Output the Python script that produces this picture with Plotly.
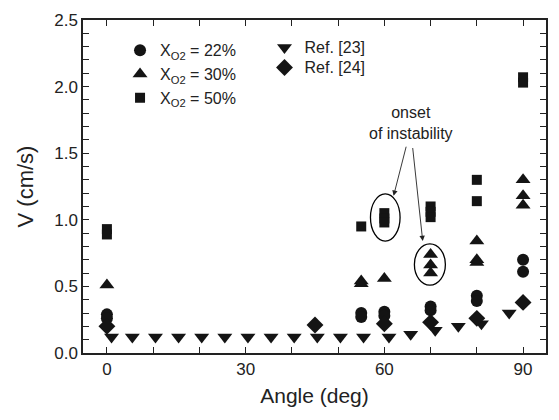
import plotly.graph_objects as go

# ---- data ----
angle_22 = [0, 0, 55, 55, 60, 60, 70, 70, 80, 80, 90, 90]
v_22 = [0.29, 0.26, 0.30, 0.27, 0.31, 0.28, 0.35, 0.32, 0.43, 0.39, 0.70, 0.61]

angle_30 = [0, 55, 55, 60, 70, 70, 70, 80, 80, 80, 90, 90, 90]
v_30 = [0.51, 0.54, 0.52, 0.56, 0.74, 0.66, 0.60, 0.84, 0.70, 0.68, 1.30, 1.18, 1.11]

angle_50 = [0, 0, 55, 60, 60, 60, 70, 70, 70, 80, 80, 90, 90]
v_50 = [0.93, 0.89, 0.95, 1.05, 1.01, 0.98, 1.10, 1.06, 1.02, 1.30, 1.14, 2.07, 2.03]

ref23_angle = [1, 5.5, 10.5, 15.5, 20.5, 25.5, 30.5, 35.5, 40.5, 45.5, 50.5,
               55.5, 61, 65.7, 71, 76, 81, 87]
ref23_v = [0.12, 0.12, 0.12, 0.12, 0.12, 0.12, 0.12, 0.12, 0.12, 0.12, 0.12,
           0.12, 0.12, 0.14, 0.17, 0.20, 0.22, 0.30]

ref24_angle = [0, 45, 60, 70, 80, 90]
ref24_v = [0.20, 0.21, 0.22, 0.23, 0.26, 0.38]

x_ticks = [0, 30, 60, 90]
y_ticks = [0.0, 0.5, 1.0, 1.5, 2.0, 2.5]

MC = "#141414"
FONT = "Liberation Sans, Arial, sans-serif"

fig = go.Figure()

def add(x, y, name, symbol, size, legend):
    fig.add_trace(go.Scatter(
        x=x, y=y, mode="markers", name=name, legend=legend,
        marker=dict(symbol=symbol, size=size, color=MC, line=dict(width=0)),
    ))

add(angle_22, v_22, "X<sub>O2</sub> = 22%", "circle", 12, "legend")
add(angle_30, v_30, "X<sub>O2</sub> = 30%", "triangle-up", 13, "legend")
add(angle_50, v_50, "X<sub>O2</sub> = 50%", "square", 10, "legend")
add(ref23_angle, ref23_v, '<span style="font-size:16px">Ref. [23]</span>',
    "triangle-down", 13, "legend2")
add(ref24_angle, ref24_v, '<span style="font-size:16px">Ref. [24]</span>',
    "diamond", 13, "legend2")

# ellipses marking onset of instability
fig.add_shape(type="circle", xref="x", yref="y", x0=57.0, x1=63.4, y0=0.84, y1=1.195,
              line=dict(color="black", width=1.3))
fig.add_shape(type="circle", xref="x", yref="y", x0=66.5, x1=73.2, y0=0.51, y1=0.82,
              line=dict(color="black", width=1.3))

fig.add_annotation(x=65.7, y=1.73, xref="x", yref="y", text="onset<br>of instability",
                   showarrow=False, font=dict(family=FONT, size=16, color="#222"))
fig.add_annotation(x=62.0, y=1.18, ax=64.8, ay=1.56, xref="x", yref="y",
                   axref="x", ayref="y", text="", showarrow=True,
                   arrowhead=2, arrowsize=1.2, arrowwidth=0.9, arrowcolor="#222")
fig.add_annotation(x=68.3, y=0.84, ax=66.1, ay=1.55, xref="x", yref="y",
                   axref="x", ayref="y", text="", showarrow=True,
                   arrowhead=2, arrowsize=1.2, arrowwidth=0.9, arrowcolor="#222")

axis_common = dict(
    showline=True, linecolor="#222", linewidth=1.5, mirror="ticks",
    ticks="inside", ticklen=6, tickwidth=1.2, tickcolor="#222",
    showgrid=False, zeroline=False,
    tickfont=dict(family=FONT, size=17, color="#222"),
)

fig.update_xaxes(
    range=[-5.17, 94.96], tickvals=x_ticks, ticktext=[str(v) for v in x_ticks],
    minor=dict(dtick=10, tick0=0, ticks="inside", ticklen=6, tickcolor="#222", tickwidth=1.2),
    title=dict(text="Angle (deg)", font=dict(family=FONT, size=21, color="#222"), standoff=10),
    **axis_common,
)
fig.update_yaxes(
    range=[0, 2.5], tickvals=y_ticks, ticktext=[f"{v:.1f}" for v in y_ticks],
    minor=dict(dtick=0.1, tick0=0, ticks="inside", ticklen=6, tickcolor="#222", tickwidth=1.2),
    title=dict(text="V (cm/s)", font=dict(family=FONT, size=22, color="#222"), standoff=15),
    **axis_common,
)

legend_common = dict(
    bgcolor="rgba(0,0,0,0)", borderwidth=0,
    xanchor="left", yanchor="top", itemsizing="trace",
)

fig.update_layout(
    width=559, height=420,
    margin=dict(l=83, r=11, t=12, b=67),
    paper_bgcolor="white", plot_bgcolor="white",
    showlegend=True,
    legend=dict(x=0.08, y=0.96, font=dict(family=FONT, size=16, color="#222"),
                **legend_common),
    legend2=dict(x=0.392, y=0.962, font=dict(family=FONT, size=13, color="#222"),
                 **legend_common),
)

fig.write_html("out.html")
